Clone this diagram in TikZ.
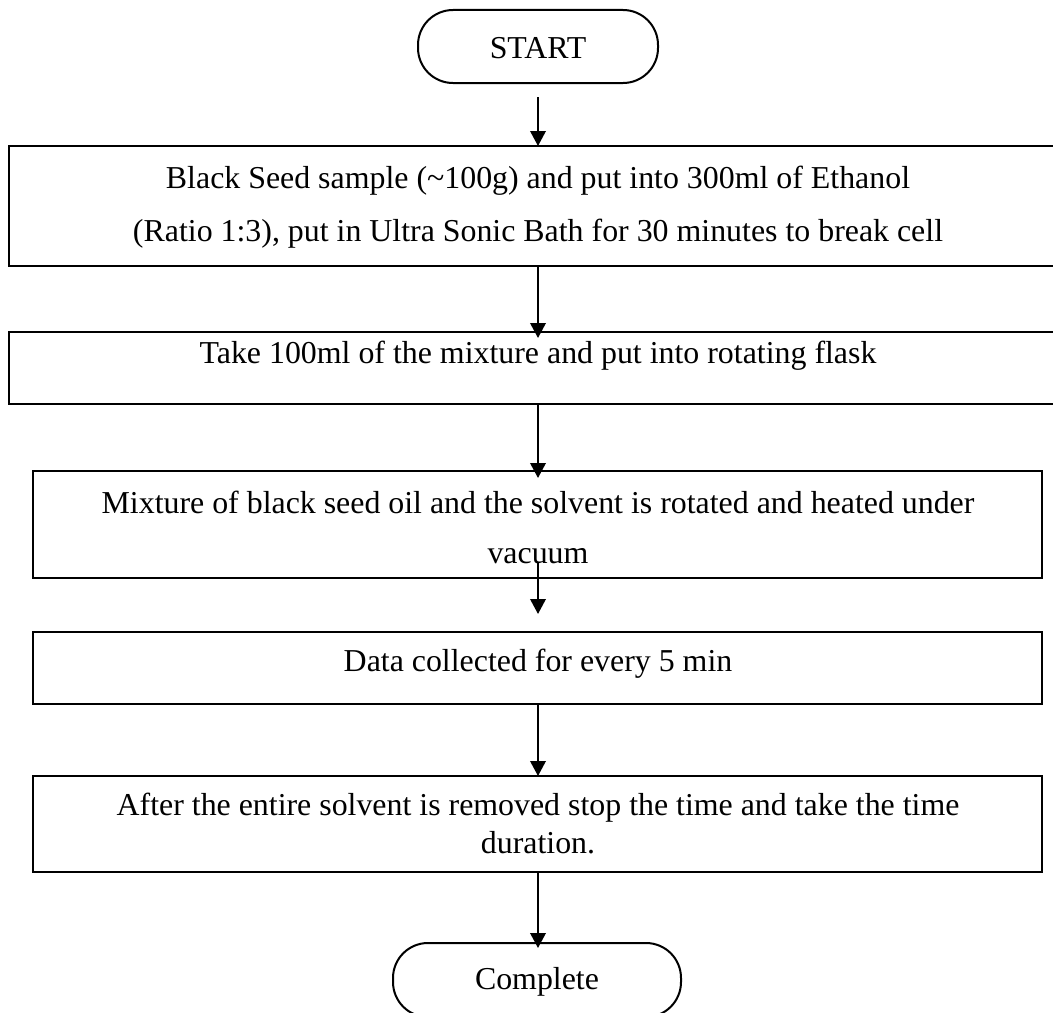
\documentclass[tikz,border=0pt]{standalone}
\usepackage{fontspec}
\setmainfont{Liberation Serif}
\usetikzlibrary{arrows.meta}
\begin{document}
\begin{tikzpicture}[x=0.4pt,y=-0.4pt,
  box/.style={draw,line width=0.8pt,inner sep=0pt,rectangle},
  term/.style={draw,line width=0.8pt,inner sep=0pt,rectangle,rounded corners=14pt},
  lbl/.style={font=\fontsize{12.75}{15}\selectfont,inner sep=0pt,anchor=center},
  arr/.style={line width=0.8pt,-{Triangle[length=6pt,width=6.2pt]}}
]
\useasboundingbox (0,0) rectangle (1053,1013);
\clip (0,0) rectangle (1053,1013);
% terminals
\node[term,minimum width=96pt,minimum height=29.2pt] (start) at (538,46.5) {};
\node[lbl] (tstart) at (538,48) {START};
\node[term,minimum width=115.2pt,minimum height=29.6pt] (end) at (537,980) {};
\node[lbl] (tend) at (537,982) {Complete};
% process boxes
\node[box,minimum width=422.8pt,minimum height=48pt] (b1) at (538,206) {};
\node[lbl] (t1a) at (538,181) {Black Seed sample (\char"007E 100g) and put into 300ml of Ethanol};
\node[lbl] (t1b) at (538,234) {(Ratio 1:3), put in Ultra Sonic Bath for 30 minutes to break cell};
\node[box,minimum width=422.8pt,minimum height=28.8pt] (b2) at (538,368) {};
\node[lbl] (t2) at (538,356) {Take 100ml of the mixture and put into rotating flask};
\node[box,minimum width=403.4pt,minimum height=42.8pt] (b3) at (537.75,524.5) {};
\node[lbl] (t3a) at (538,502) {Mixture of black seed oil and the solvent is rotated and heated under};
\node[lbl] (t3b) at (538,556) {vacuum};
\node[box,minimum width=403.4pt,minimum height=28.8pt] (b4) at (537.75,668) {};
\node[lbl] (t4) at (538,664) {Data collected for every 5 min};
\node[box,minimum width=403.4pt,minimum height=38.4pt] (b5) at (537.75,824) {};
\node[lbl] (t5a) at (538,808) {After the entire solvent is removed stop the time and take the time};
\node[lbl] (t5b) at (538,843) {duration.};
% connector end points
\coordinate (a1s) at (538,97);
\coordinate (a1e) at (538,146);
\coordinate (a2e) at (538,338);
\coordinate (a6e) at (538,478);
\coordinate (a3s) at (538,563);
\coordinate (a3e) at (538,614);
\coordinate (a4e) at (538,776);
\coordinate (a5e) at (538,948);
\draw[arr] (a1s) -- (a1e);
\draw[arr] (b1.south -| a1s) -- (a2e);
\draw[arr] (b2.south -| a1s) -- (a6e);
\draw[arr] (a3s) -- (a3e);
\draw[arr] (b4.south -| a1s) -- (a4e);
\draw[arr] (b5.south -| a1s) -- (a5e);
\end{tikzpicture}
\end{document}
